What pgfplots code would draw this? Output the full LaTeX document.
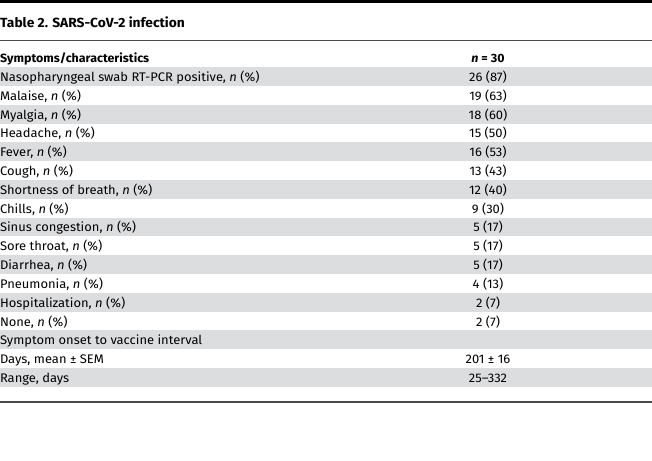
\documentclass[border=0pt]{standalone}
\usepackage{fontspec}
\setmainfont[FakeStretch=1.04]{Fira Sans}
\usepackage{pgfplots}
\usepackage{pgfplotstable}
\pgfplotsset{compat=1.18}
\definecolor{rowgray}{HTML}{DCDDDF}
\definecolor{rulegray}{HTML}{4A4A4A}

\pgfplotstableread[col sep=semicolon]{
y;label;value
76.4;Nasopharyngeal swab RT-PCR positive, \textit{n} (\%);26 (87)
95.2;Malaise, \textit{n} (\%);19 (63)
114.1;Myalgia, \textit{n} (\%);18 (60)
132.9;Headache, \textit{n} (\%);15 (50)
151.7;Fever, \textit{n} (\%);16 (53)
170.5;Cough, \textit{n} (\%);13 (43)
189.3;Shortness of breath, \textit{n} (\%);12 (40)
208.2;Chills, \textit{n} (\%);9 (30)
227.0;Sinus congestion, \textit{n} (\%);5 (17)
245.8;Sore throat, \textit{n} (\%);5 (17)
264.6;Diarrhea, \textit{n} (\%);5 (17)
283.4;Pneumonia, \textit{n} (\%);4 (13)
302.3;Hospitalization, \textit{n} (\%);2 (7)
321.1;None, \textit{n} (\%);2 (7)
339.9;Symptom onset to vaccine interval;{}
358.7;Days, mean ± SEM;201 ± 16
377.5;Range, days;25--332
}\tbl

\begin{document}
\begin{tikzpicture}
\begin{axis}[
  width=652bp, height=461bp, scale only axis,
  xmin=0, xmax=652, ymin=0, ymax=461, y dir=reverse,
  hide axis, clip=false,
  point meta=explicit symbolic,
  nodes near coords={\pgfplotspointmeta},
  every node near coord/.append style={inner sep=0pt, outer sep=0pt, font=\fontsize{12.5}{14}\selectfont},
]
\path (rel axis cs:0,0) rectangle (rel axis cs:1,1);
% shaded rows
\pgfplotsinvokeforeach{76.4,114.1,151.7,189.3,227.0,264.6,302.3,339.9,377.5}{
  \fill[rowgray] (axis cs:0,#1-9.41) rectangle (axis cs:652,#1+9.41);
}
% rules
\fill[black] (axis cs:0,0) rectangle (axis cs:652,3.3);
\fill[rulegray] (axis cs:0,40.4) rectangle (axis cs:652,41.5);
\fill[rulegray] (axis cs:0,401.4) rectangle (axis cs:652,402.8);
% title and header
\node[anchor=base west, inner sep=0pt, font=\fontsize{13.3}{15}\selectfont\bfseries] at (axis cs:0,27.6) {Table 2. SARS-CoV-2 infection};
\node[anchor=base west, inner sep=0pt, font=\fontsize{12}{14}\selectfont\bfseries] at (axis cs:0,62.6) {Symptoms/characteristics};
\node[anchor=base, inner sep=0pt, font=\fontsize{12}{14}\selectfont\bfseries] at (axis cs:488,62.6) {\textit{n} = 30};
% body text
\addplot[only marks, mark=none, every node near coord/.append style={anchor=base west}]
  table[x expr=0, y expr=\thisrow{y}+4.9, meta=label] {\tbl};
\addplot[only marks, mark=none, every node near coord/.append style={anchor=base}]
  table[x expr=488, y expr=\thisrow{y}+4.9, meta=value] {\tbl};
\end{axis}
\end{tikzpicture}
\end{document}
